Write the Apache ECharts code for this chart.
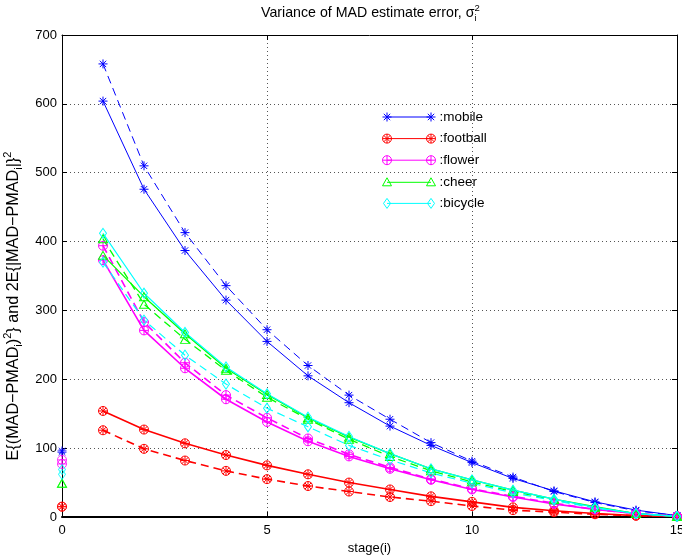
<!DOCTYPE html>
<html>
<head>
<meta charset="utf-8">
<script src="https://cdn.jsdelivr.net/npm/echarts@6/dist/echarts.min.js"></script>
<style>html,body{margin:0;padding:0;background:#fff;}#main{width:682px;height:560px;}</style>
</head>
<body>
<div id="main"></div>
<script>
// ---- data ----
const stages = [1, 2, 3, 4, 5, 6, 7, 8, 9, 10, 11, 12, 13, 14, 15];
const xTicks = [0, 5, 10, 15];
const yTicks = [0, 100, 200, 300, 400, 500, 600, 700];
const seqNames = ['mobile', 'football', 'flower', 'cheer', 'bicycle'];

const mobileSolid   = [604, 476, 387, 315, 255, 205, 166, 132, 104, 79, 56, 38, 22, 10, 2];
const mobileDashed  = [658, 510, 413, 336, 272, 220, 177, 142, 108, 81, 58, 37, 21, 9, 2];
const footballSolid = [154, 127, 107, 90, 75, 62, 50, 40, 30, 22, 14, 9, 5, 2, 1];
const footballDashed= [126, 99, 82, 67, 55, 45, 37, 29, 23, 16, 10, 7, 4, 2, 1];
const flowerSolid   = [373, 271, 216, 171, 138, 110, 88, 70, 54, 40, 29, 19, 11, 5, 1];
const flowerDashed  = [394, 283, 224, 177, 144, 114, 91, 72, 55, 41, 30, 20, 11, 5, 1];
const cheerSolid    = [380, 320, 266, 216, 178, 144, 116, 92, 70, 54, 39, 26, 15, 5, 1];
const cheerDashed   = [404, 309, 258, 213, 174, 142, 113, 88, 67, 51, 37, 25, 14, 5, 1];
const bicycleSolid  = [412, 325, 268, 218, 179, 145, 117, 92, 70, 54, 39, 26, 14, 5, 1];
const bicycleDashed = [370, 286, 235, 193, 158, 131, 104, 83, 64, 49, 35, 24, 13, 5, 1];
// values at stage 0 (single points)
const mobileStage0   = [96, 94];
const footballStage0 = [15, 15];
const flowerStage0   = [83, 77];
const cheerStage0    = [49, 49];
const bicycleStage0  = [69, 62];

// ---- styling ----
const FONT = 'Liberation Sans, Arial, Helvetica, sans-serif';
const colors = ['#0000ff', '#ff0000', '#ff00ff', '#00ff00', '#00ffff'];
const widths = [1, 1.6, 1.6, 1.3, 1.2];

function star(cx, cy) {
  return `M${cx},${cy-4.5}L${cx},${cy+4.5}M${cx-4.5},${cy}L${cx+4.5},${cy}` +
         `M${cx-3.2},${cy-3.2}L${cx+3.2},${cy+3.2}M${cx-3.2},${cy+3.2}L${cx+3.2},${cy-3.2}`;
}
function circ(cx, cy) {
  return `M${cx+4.5},${cy}A4.5,4.5,0,1,1,${cx-4.5},${cy}A4.5,4.5,0,1,1,${cx+4.5},${cy}Z`;
}
function plus(cx, cy) {
  return `M${cx},${cy-4.5}L${cx},${cy+4.5}M${cx-4.5},${cy}L${cx+4.5},${cy}`;
}
function tri(cx, cy) {
  return `M${cx},${cy-4.5}L${cx+4.5},${cy+3.5}L${cx-4.5},${cy+3.5}Z`;
}
function dia(cx, cy) {
  return `M${cx},${cy-5}L${cx+3.5},${cy}L${cx},${cy+5}L${cx-3.5},${cy}Z`;
}
const markerFns = [
  (x, y) => star(x, y),
  (x, y) => circ(x, y) + star(x, y),
  (x, y) => circ(x, y) + plus(x, y),
  (x, y) => tri(x, y),
  (x, y) => dia(x, y)
];
const markerSizes = [[9, 9], [9, 9], [9, 9], [9, 8], [7, 10]];
const markerCenters = [[4.5, 4.5], [4.5, 4.5], [4.5, 4.5], [4.5, 4.5], [3.5, 5]];

function symbolPath(i) {
  const c = markerCenters[i];
  return 'path://' + markerFns[i](c[0], c[1]);
}
function legendPath(i) {
  // line with a marker at each end
  const y = 5;
  return 'path://M4.5,' + y + 'L48.5,' + y + markerFns[i](4.5, y) + markerFns[i](48.5, y);
}

const solids = [mobileSolid, footballSolid, flowerSolid, cheerSolid, bicycleSolid];
const dashes = [mobileDashed, footballDashed, flowerDashed, cheerDashed, bicycleDashed];
const zeros  = [mobileStage0, footballStage0, flowerStage0, cheerStage0, bicycleStage0];

const series = [];
seqNames.forEach((name, i) => {
  const common = {
    name: name,
    symbol: symbolPath(i),
    symbolSize: markerSizes[i],
    itemStyle: { color: 'rgba(0,0,0,0)', borderColor: colors[i], borderWidth: 1 },
    emphasis: { disabled: true },
    silent: true
  };
  series.push(Object.assign({}, common, {
    type: 'line',
    data: stages.map((s, k) => [s, solids[i][k]]),
    showAllSymbol: true,
    lineStyle: { color: colors[i], width: widths[i], type: 'solid' }
  }));
  series.push(Object.assign({}, common, {
    type: 'line',
    data: stages.map((s, k) => [s, dashes[i][k]]),
    showAllSymbol: true,
    lineStyle: { color: colors[i], width: widths[i], type: [8, 5] }
  }));
  series.push(Object.assign({}, common, {
    type: 'scatter',
    data: zeros[i].map(v => [0, v])
  }));
});

const axisText = { color: '#000', fontSize: 13, fontFamily: FONT };

const option = {
  animation: false,
  backgroundColor: '#fff',
  title: {
    text: '{t|Variance of MAD estimate error, σ}{sub|i}{sup|2}',
    left: 261,
    top: 3,
    padding: 0,
    textStyle: {
      fontWeight: 'normal',
      rich: {
        t: { fontSize: 14.2, fontFamily: FONT, fontWeight: 'normal', color: '#000', verticalAlign: 'middle' },
        sub: { fontSize: 9.5, fontFamily: FONT, fontWeight: 'normal', color: '#000', width: 0, padding: [10, 0, 0, 0], verticalAlign: 'middle' },
        sup: { fontSize: 9.5, fontFamily: FONT, fontWeight: 'normal', color: '#000', padding: [0, 0, 10, 0], verticalAlign: 'middle' }
      }
    }
  },
  legend: {
    orient: 'vertical',
    left: 382,
    top: 110,
    padding: 0,
    itemWidth: 53,
    itemHeight: 10,
    itemGap: 7.6,
    selectedMode: false,
    formatter: ':{name}',
    textStyle: { color: '#000', fontSize: 13.5, fontFamily: FONT, padding: [0, 0, 0, -1] },
    data: seqNames.map((n, i) => ({
      name: n,
      icon: legendPath(i),
      itemStyle: { color: 'rgba(0,0,0,0)', borderColor: colors[i], borderWidth: 1 }
    }))
  },
  grid: { left: 62, right: 5, top: 35, bottom: 43, containLabel: false, outerBoundsMode: 'none' },
  xAxis: [
    {
      type: 'value', min: xTicks[0], max: xTicks[xTicks.length - 1], interval: 5,
      position: 'bottom',
      name: 'stage(i)', nameLocation: 'middle', nameGap: 24,
      nameTextStyle: axisText,
      axisLine: { show: true, onZero: false, lineStyle: { color: '#000', width: 2 } },
      axisTick: { show: true, inside: true, length: 5, lineStyle: { color: '#000', width: 1 } },
      axisLabel: Object.assign({ margin: 7 }, axisText),
      splitLine: { show: true, lineStyle: { color: '#555', width: 1, type: [1, 3] } }
    },
    {
      type: 'value', min: xTicks[0], max: xTicks[xTicks.length - 1], interval: 5,
      position: 'top',
      axisLine: { show: true, onZero: false, lineStyle: { color: '#000', width: 1 } },
      axisTick: { show: true, inside: true, length: 5, lineStyle: { color: '#000', width: 1 } },
      axisLabel: { show: false },
      splitLine: { show: false }
    }
  ],
  yAxis: [
    {
      type: 'value', min: yTicks[0], max: yTicks[yTicks.length - 1], interval: 100,
      position: 'left',
      name: 'E{(MAD−PMAD{sub|i}){sup|2}} and 2E{|MAD−PMAD{sub|i}|}{sup|2}',
      nameLocation: 'middle', nameGap: 33, nameRotate: 90,
      nameTextStyle: {
        color: '#000', fontSize: 16.2, fontFamily: FONT,
        padding: [0, 60, 0, 0],
        rich: {
          sub: { fontSize: 11, fontFamily: FONT, color: '#000', padding: [10, 0, 0, 0], verticalAlign: 'middle' },
          sup: { fontSize: 11, fontFamily: FONT, color: '#000', padding: [0, 0, 11, 0], verticalAlign: 'middle' }
        }
      },
      axisLine: { show: true, onZero: false, lineStyle: { color: '#000', width: 1 } },
      axisTick: { show: true, inside: true, length: 5, lineStyle: { color: '#000', width: 1 } },
      axisLabel: Object.assign({ margin: 5 }, axisText),
      splitLine: { show: true, lineStyle: { color: '#555', width: 1, type: [1, 3] } }
    },
    {
      type: 'value', min: yTicks[0], max: yTicks[yTicks.length - 1], interval: 100,
      position: 'right',
      axisLine: { show: true, onZero: false, lineStyle: { color: '#000', width: 1 } },
      axisTick: { show: true, inside: true, length: 5, lineStyle: { color: '#000', width: 1 } },
      axisLabel: { show: false },
      splitLine: { show: false }
    }
  ],
  series: series
};

const chart = echarts.init(document.getElementById('main'), null, { renderer: 'canvas' });
chart.setOption(option);
</script>
</body>
</html>
